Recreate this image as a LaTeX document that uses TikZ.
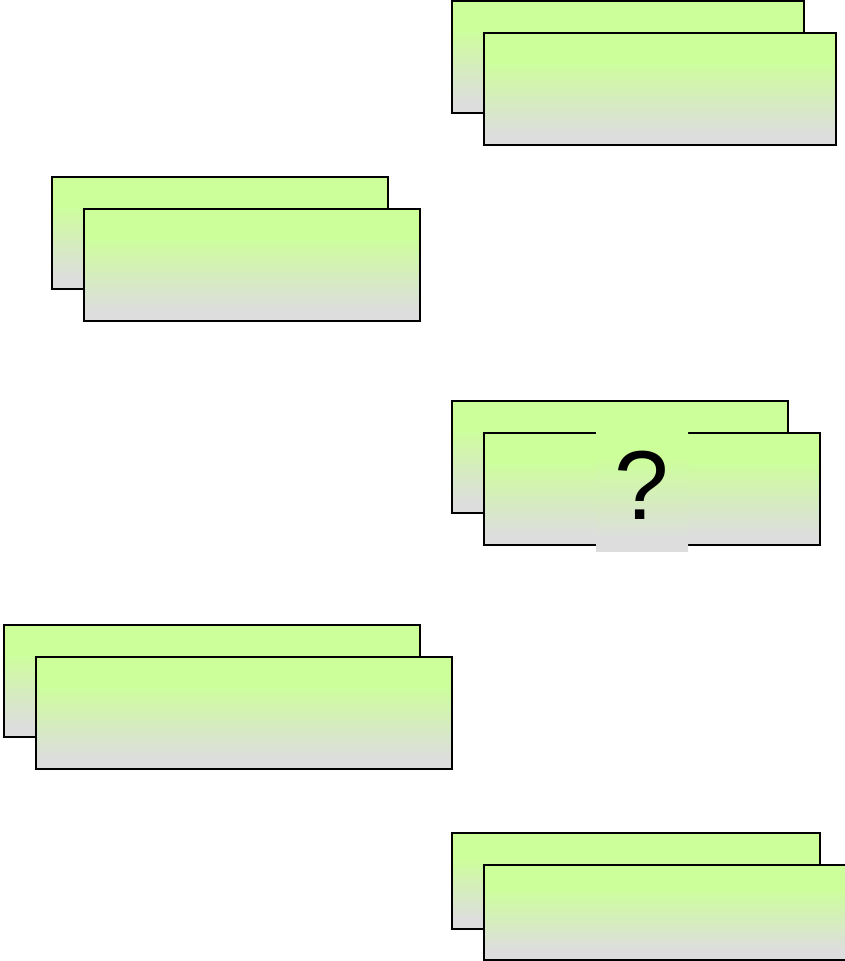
\documentclass[tikz,border=0pt]{standalone}
\usepackage{fontspec}
\setmainfont{Liberation Sans}
\definecolor{boxgreen}{RGB}{204,255,153}
\definecolor{boxgray}{RGB}{221,221,221}
\pgfdeclareverticalshading{greengray}{100bp}{color(0bp)=(boxgray); color(30bp)=(boxgray); color(63bp)=(boxgreen); color(100bp)=(boxgreen)}
\tikzset{
  card/.style={draw=black, line width=2pt, shading=greengray, anchor=north west, inner sep=0pt, outer sep=0pt, minimum height=112pt},
  qbox/.style={shading=greengray, anchor=north west, inner sep=0pt, outer sep=0pt, minimum width=92pt, minimum height=126pt}
}
\begin{document}
\begin{tikzpicture}[x=1pt,y=-1pt]
\useasboundingbox (0,0) rectangle (845,961);
% pair 1
\node[card, minimum width=352pt] (b1) at (452,1) {};
\node[card, minimum width=352pt] (f1) at (484,33) {};
% pair 2
\node[card, minimum width=336pt] (b2) at (52,177) {};
\node[card, minimum width=336pt] (f2) at (84,209) {};
% pair 3
\node[card, minimum width=336pt] (b3) at (452,401) {};
\node[card, minimum width=336pt] (f3) at (484,433) {};
\node[qbox] (q) at (596,425) {};
\node[font=\fontsize{98}{98}\selectfont, inner sep=0pt] (qm) at (642,485) {?};
% pair 4
\node[card, minimum width=416pt] (b4) at (4,625) {};
\node[card, minimum width=416pt] (f4) at (36,657) {};
% pair 5
\node[card, minimum width=368pt, minimum height=96pt] (b5) at (452,833) {};
\node[card, minimum width=380pt, minimum height=95pt] (f5) at (484,865) {};
\end{tikzpicture}
\end{document}
